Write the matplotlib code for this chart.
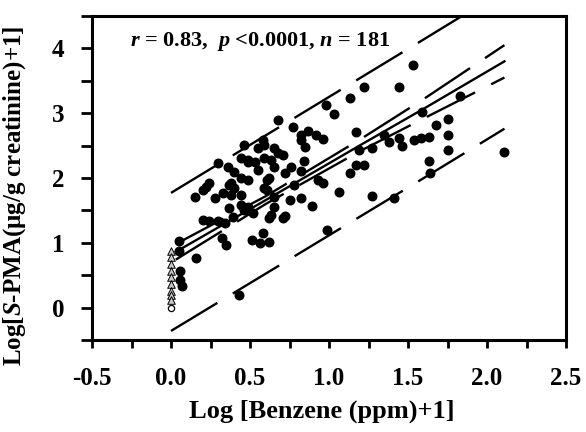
import numpy as np
import matplotlib.pyplot as plt
from matplotlib.ticker import MultipleLocator

plt.rcParams['font.family'] = ['Liberation Serif', 'DejaVu Serif']
plt.rcParams['font.weight'] = 'bold'
plt.rcParams['mathtext.fontset'] = 'custom'
plt.rcParams['mathtext.rm'] = 'Liberation Serif:bold'
plt.rcParams['mathtext.it'] = 'Liberation Serif:italic:bold'
plt.rcParams['mathtext.bf'] = 'Liberation Serif:bold'
plt.rcParams['lines.scale_dashes'] = False

# filled points: log(benzene+1) vs log(S-PMA+1)
benzene = [0.05, 0.05, 0.06, 0.07, 0.06, 0.16, 0.15, 0.20, 0.24, 0.22,
           0.28, 0.30, 0.36, 0.40, 0.33, 0.38, 0.44, 0.37, 0.40, 0.38,
           0.44, 0.49, 0.46, 0.44, 0.49, 0.55, 0.44, 0.46, 0.37, 0.52,
           0.20, 0.24, 0.30, 0.39, 0.34, 0.32, 0.35, 0.51, 0.56, 0.62,
           0.58, 0.43, 0.49, 0.53, 0.58, 0.59, 0.65, 0.68, 0.71, 0.59,
           0.63, 0.68, 0.77, 0.82, 0.87, 0.92, 0.96, 0.82, 0.85, 0.98,
           1.03, 1.13, 0.84, 0.55, 0.65, 0.76, 0.72, 0.82, 0.62, 0.61,
           0.59, 0.61, 0.78, 0.93, 0.96, 1.13, 1.06, 0.65, 0.82, 0.75,
           0.89, 0.65, 0.72, 0.71, 0.62, 0.99, 0.49, 0.63, 1.22, 1.44,
           1.53, 1.59, 1.17, 1.68, 1.35, 1.44, 1.46, 1.38, 1.54, 1.58,
           1.63, 1.19, 1.27, 1.17, 1.22, 1.63, 1.64, 1.27, 1.41, 1.83,
           1.75, 1.75, 1.75, 2.11]
spma = [1.02, 0.88, 0.42, 0.34, 0.57, 0.76, 1.71, 1.81, 1.92, 1.86,
        1.69, 2.23, 2.17, 2.09, 1.77, 1.74, 1.74, 1.89, 1.84, 1.92,
        2.00, 1.97, 2.51, 2.31, 2.25, 2.47, 1.58, 1.50, 1.53, 1.46,
        1.35, 1.33, 1.33, 1.40, 1.30, 1.07, 0.96, 1.04, 0.99, 1.01,
        1.15, 0.19, 2.28, 2.25, 2.59, 2.51, 2.47, 2.39, 2.36, 2.31,
        2.28, 2.90, 2.78, 2.67, 2.73, 2.67, 2.60, 2.59, 2.48, 3.12,
        2.98, 3.24, 2.26, 2.12, 2.17, 2.17, 2.08, 2.11, 2.00, 1.97,
        1.84, 1.81, 1.89, 1.97, 1.92, 2.08, 1.78, 1.71, 1.69, 1.66,
        1.57, 1.55, 1.41, 1.38, 1.38, 1.19, 1.55, 1.43, 3.41, 3.41,
        3.74, 3.02, 2.71, 2.82, 2.67, 2.62, 2.50, 2.56, 2.59, 2.62,
        2.64, 2.43, 2.47, 2.20, 2.20, 2.26, 2.08, 1.72, 1.69, 3.26,
        2.91, 2.67, 2.43, 2.40]

# unexposed (benzene not detected) stacked at x = 0
zero_x = [0.0] * 9
zero_y = [0.88, 0.78, 0.68, 0.57, 0.47, 0.37, 0.26, 0.19, 0.11]
zero_circle_y = [0.0]

# regression line and 95% bands
fit_x = [0.03, 0.6, 1.2, 1.6, 2.11]
fit_y = [0.86, 1.66, 2.51, 3.07, 3.80]
ci_up = [0.98, 1.72, 2.60, 3.22, 4.05]
ci_lo = [0.74, 1.60, 2.42, 2.92, 3.55]
pi_x = [0.0, 1.6, 2.11]
pi_up = [1.77, 4.14, 4.90]
pi_lo = [-0.36, 2.00, 2.76]

fig = plt.figure(figsize=(5.86, 4.32), dpi=100)
ax = fig.add_axes([0.157, 0.213, 0.809, 0.750])

dash = (0, (39, 13))
ax.plot(pi_x, pi_up, color='black', lw=1.7, linestyle=dash)
ax.plot(pi_x, pi_lo, color='black', lw=1.7, linestyle=dash)
ax.plot(fit_x, ci_up, color='black', lw=1.7, linestyle=dash)
ax.plot(fit_x, ci_lo, color='black', lw=1.7, linestyle=dash)
ax.plot(fit_x, fit_y, color='black', lw=1.7)

ax.scatter(benzene, spma, s=38, color='black', zorder=3)
ax.scatter(zero_x, zero_y, s=30, marker='^', facecolor='#c8c8c8',
           edgecolor='black', linewidths=0.7, zorder=3)
ax.scatter([0.0], zero_circle_y, s=20, marker='o', facecolor='white',
           edgecolor='black', linewidths=0.9, zorder=3)

ax.set_xlim(-0.5, 2.5)
ax.set_ylim(-0.5, 4.5)
ax.xaxis.set_minor_locator(MultipleLocator(0.25))
ax.yaxis.set_major_locator(MultipleLocator(1))
ax.yaxis.set_minor_locator(MultipleLocator(0.5))
ax.set_xticks(np.arange(-0.5, 2.51, 0.5))
ax.set_xticklabels(['-0.5', '0.0', '0.5', '1.0', '1.5', '2.0', '2.5'])
ax.tick_params(which='both', direction='out', width=2, labelsize=18)
ax.tick_params(axis='y', which='both', length=8, pad=12)
ax.tick_params(axis='x', which='both', length=5.5, pad=14)
for s in ax.spines.values():
    s.set_linewidth(2.2)

ax.set_xlabel('Log [Benzene (ppm)+1]', fontsize=19, fontweight='bold')
ax.xaxis.set_label_coords(0.485, -0.185)
ax.set_ylabel('Log[$S$-PMA(\u03bcg/g creatinine)+1]', fontsize=18,
              fontweight='bold')
ax.yaxis.set_label_coords(-0.135, 0.445)

ax.text(-0.26, 4.1, r'$r$ = 0.83,  $p$ <0.0001, $n$ = 181',
        fontsize=16, fontweight='bold', va='center', ha='left')

fig.savefig('out.png', dpi=100)
